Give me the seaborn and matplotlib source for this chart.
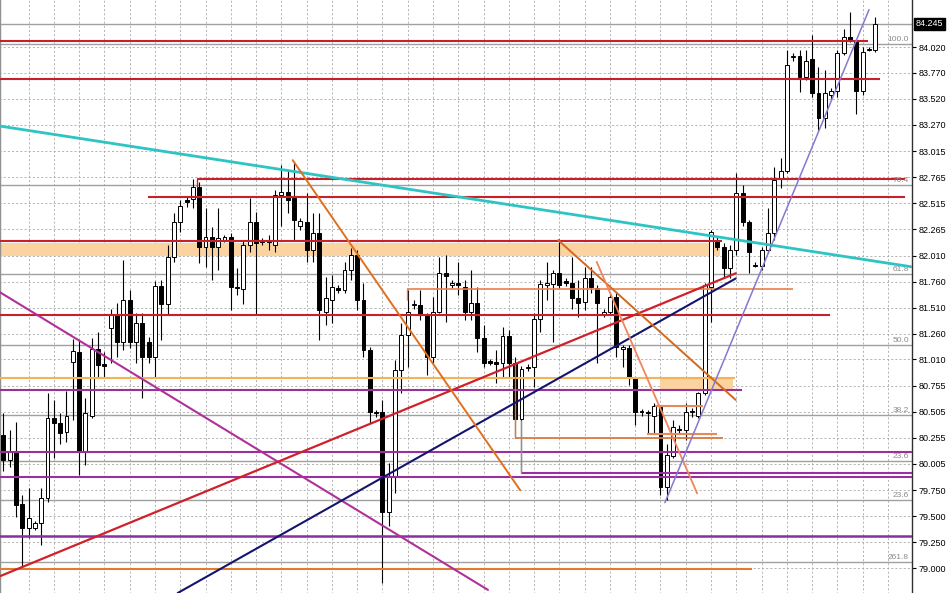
import numpy as np
import pandas as pd
import matplotlib
matplotlib.use("Agg")
import matplotlib.pyplot as plt
import matplotlib.transforms as mtransforms
import seaborn as sns

# candles (bar index 0..138)
opens = [80.28, 80.04, 80.12, 79.62, 79.39, 79.39, 79.43, 79.68, 80.45, 80.40,
         80.31, 80.99, 81.08, 80.12, 80.47, 81.11, 80.96, 81.31, 81.44, 81.18,
         81.58, 81.18, 81.36, 81.18, 81.03, 81.72, 81.54, 82.00, 82.33, 82.54,
         82.56, 82.67, 82.09, 82.19, 82.09, 82.16, 82.19, 81.71, 81.69, 82.11,
         82.33, 82.14, 82.15, 82.11, 82.59, 82.62, 82.57, 82.30, 82.33, 82.06,
         82.23, 81.47, 81.58, 81.70, 81.68, 81.87, 82.02, 81.58, 81.10, 80.50,
         80.50, 79.54, 79.88, 80.91, 81.25, 81.53, 81.53, 81.44, 81.03, 81.47,
         81.84, 81.73, 81.75, 81.71, 81.47, 81.55, 81.22, 80.99, 80.98, 80.98,
         81.24, 80.98, 80.44, 80.93, 80.94, 81.40, 81.73, 81.74, 81.84, 81.76,
         81.75, 81.60, 81.56, 81.79, 81.70, 81.45, 81.47, 81.61, 81.11, 81.12,
         80.83, 80.51, 80.50, 80.47, 80.55, 79.78, 80.08, 80.34, 80.33, 80.50,
         80.47, 80.69, 81.71, 82.16, 82.09, 81.89, 82.06, 82.61, 82.33, 81.92,
         81.91, 82.06, 82.23, 82.76, 82.83, 83.92, 83.93, 83.73, 83.90, 83.58,
         83.34, 83.56, 83.60, 83.96, 84.12, 84.09, 83.60, 83.99, 83.99]
highs = [80.49, 80.33, 80.41, 79.70, 79.77, 79.45, 79.77, 80.69, 80.62, 80.49,
         80.71, 81.21, 81.20, 80.64, 81.22, 81.27, 81.08, 81.50, 81.55, 81.97,
         81.68, 81.46, 81.46, 81.23, 81.77, 81.78, 82.11, 82.42, 82.55, 82.58,
         82.75, 82.72, 82.47, 82.29, 82.47, 82.21, 82.23, 81.89, 82.16, 82.57,
         82.43, 82.18, 82.21, 82.64, 82.88, 82.84, 82.91, 82.37, 82.61, 82.42,
         82.42, 81.80, 81.82, 81.73, 81.95, 82.08, 82.06, 81.75, 81.13, 80.52,
         80.62, 80.01, 81.00, 81.36, 81.68, 81.58, 81.68, 81.46, 81.61, 82.00,
         82.02, 81.78, 81.95, 81.78, 81.87, 81.71, 81.34, 81.01, 81.10, 81.32,
         81.29, 81.03, 80.95, 80.97, 81.46, 81.78, 81.95, 81.87, 82.17, 81.79,
         82.00, 81.78, 81.90, 81.90, 81.73, 81.50, 81.65, 81.65, 81.15, 81.15,
         80.84, 80.53, 80.52, 80.59, 80.57, 80.20, 80.43, 80.38, 80.59, 80.54,
         80.70, 81.75, 82.26, 82.19, 82.13, 82.11, 82.81, 82.69, 82.35, 81.95,
         82.09, 82.47, 82.86, 82.95, 83.99, 83.96, 83.99, 83.99, 84.14, 83.83,
         83.80, 83.63, 83.99, 84.19, 84.36, 84.10, 84.02, 84.02, 84.31]
lows = [79.94, 79.97, 79.49, 79.00, 79.29, 79.37, 79.22, 79.64, 80.06, 80.20,
        80.21, 80.43, 79.90, 79.99, 80.45, 80.83, 80.84, 80.98, 81.03, 81.10,
        81.12, 80.98, 80.64, 80.98, 80.83, 81.20, 81.44, 81.95, 82.24, 82.48,
        82.47, 81.94, 81.90, 81.78, 81.87, 82.14, 81.49, 81.63, 81.54, 82.05,
        81.44, 82.11, 82.06, 82.05, 82.30, 82.42, 82.16, 82.26, 81.95, 81.95,
        81.20, 81.34, 81.36, 81.65, 81.65, 81.78, 81.49, 81.03, 80.40, 80.46,
        78.86, 79.41, 79.72, 80.69, 80.94, 81.50, 81.39, 80.86, 80.98, 81.46,
        81.37, 81.70, 81.63, 81.39, 81.39, 81.08, 80.94, 80.96, 80.78, 80.84,
        80.84, 80.26, 79.93, 80.90, 80.74, 81.27, 81.58, 81.18, 81.70, 81.72,
        81.50, 81.42, 81.49, 81.65, 80.98, 81.42, 81.44, 81.03, 80.94, 80.76,
        80.38, 80.47, 80.30, 80.30, 79.70, 79.66, 80.06, 80.29, 80.23, 80.46,
        80.45, 80.67, 81.37, 82.06, 81.80, 81.79, 82.02, 82.30, 81.84, 81.90,
        81.87, 82.04, 82.16, 82.66, 82.81, 83.89, 83.59, 83.70, 83.54, 83.22,
        83.24, 83.51, 83.54, 83.94, 84.07, 83.37, 83.56, 83.98, 83.97]
closes = [80.04, 80.12, 79.61, 79.39, 79.48, 79.43, 79.68, 80.45, 80.40, 80.30,
          80.47, 81.09, 80.12, 80.49, 81.11, 80.96, 80.95, 81.44, 81.18, 81.58,
          81.18, 81.36, 81.03, 81.03, 81.72, 81.54, 82.00, 82.33, 82.49, 82.53,
          82.67, 82.09, 82.19, 82.09, 82.18, 82.19, 81.71, 81.70, 82.11, 82.33,
          82.13, 82.15, 82.14, 82.59, 82.62, 82.55, 82.35, 82.34, 82.06, 82.23,
          81.49, 81.60, 81.71, 81.68, 81.87, 82.02, 81.58, 81.10, 80.50, 80.49,
          79.54, 79.88, 80.91, 81.25, 81.47, 81.54, 81.44, 81.03, 81.47, 81.84,
          81.81, 81.75, 81.73, 81.47, 81.55, 81.22, 80.98, 80.98, 80.97, 81.24,
          80.98, 80.44, 80.92, 80.94, 81.40, 81.74, 81.75, 81.84, 81.73, 81.75,
          81.60, 81.55, 81.79, 81.71, 81.55, 81.47, 81.61, 81.13, 81.13, 80.83,
          80.50, 80.50, 80.49, 80.56, 79.78, 80.09, 80.36, 80.33, 80.50, 80.51,
          80.69, 81.73, 82.24, 82.09, 81.89, 82.06, 82.61, 82.33, 82.05, 81.91,
          82.06, 82.23, 82.74, 82.83, 83.85, 83.93, 83.73, 83.89, 83.58, 83.34,
          83.58, 83.60, 83.96, 84.12, 84.09, 83.60, 83.97, 84.00, 84.245]

# right price scale
tick_vals = [84.020, 83.770, 83.520, 83.270, 83.015, 82.765, 82.515, 82.265, 82.010,
             81.760, 81.510, 81.260, 81.010, 80.755, 80.505, 80.255, 80.005, 79.750,
             79.500, 79.250, 79.000]
tick_labels = ["%.3f" % v for v in tick_vals]
last_price = 84.245

# horizontal levels: price, start bar, end bar, colour, width
lvl_price = [84.078, 83.712, 82.748, 82.575, 82.151, 81.688, 81.438, 80.831,
             80.716, 80.561, 80.291, 80.253, 80.118, 79.916, 79.877, 79.309, 78.990]
lvl_x0 = [-0.6, -0.6, 30.6, 22.9, -0.6, 63.9, -0.6, -0.6,
          -0.6, 103.1, 101.9, 81.0, -0.6, 81.9, -0.6, -0.6, -0.6]
lvl_x1 = [136.8, 138.7, 142.7, 142.7, 113.7, 125.0, 130.8, 115.8,
          116.9, 110.7, 113.0, 113.9, 144.0, 144.0, 144.0, 144.0, 118.5]
lvl_color = ["#c8202a", "#c8202a", "#c8202a", "#c8202a", "#c8202a", "#e8804a", "#c8202a", "#f4b455",
             "#9a2f9e", "#e8895a", "#e8895a", "#d9793f", "#9a2f9e", "#9a2f9e", "#9a2f9e", "#8a2fa0", "#e07b30"]
lvl_lw = [1.5, 1.5, 1.5, 1.5, 1.5, 1.2, 1.5, 1.5,
          1.5, 1.5, 1.5, 1.3, 1.5, 1.5, 1.5, 1.8, 1.5]

# fibonacci levels (grey) and their tags
fib_price = [84.245, 84.049, 82.690, 81.830, 81.150, 80.475, 80.030, 79.655, 79.058]
fib_tag = ["", "100.0", "76.4", "61.8", "50.0", "38.2", "23.6", "23.6", "261.8"]

# shaded zones: low, high, start bar, end bar
zone_lo = [82.006, 80.725]
zone_hi = [82.132, 80.831]
zone_x0 = [-0.6, 103.9]
zone_x1 = [113.4, 115.5]

# trend lines: two points each (bar, price)
trend_name = ["cyan", "magenta", "red", "navy", "orange1", "orange2", "salmon", "lavender"]
trend_x = [(-0.6, 144.0), (-0.6, 76.7), (-0.6, 115.9), (27.6, 115.9),
           (45.8, 81.8), (87.8, 115.9), (93.9, 109.8), (104.7, 137.0)]
trend_y = [(83.259, 81.90), (81.66, 78.79), (78.92, 81.84), (78.76, 81.79),
           (82.93, 79.75), (82.16, 80.62), (81.95, 79.72), (79.63, 84.38)]
trend_color = {"cyan": "#2ec4c4", "magenta": "#b0309a", "red": "#d0202a", "navy": "#14146e",
               "orange1": "#e0701e", "orange2": "#d2691e", "salmon": "#f0845e", "lavender": "#8478d0"}
trend_lw = {"cyan": 2.0, "magenta": 1.5, "red": 1.6, "navy": 1.5,
            "orange1": 1.4, "orange2": 1.4, "salmon": 1.3, "lavender": 1.1}

sns.set_style("white")
plt.rcParams['font.family'] = ['Liberation Sans', 'DejaVu Sans']

fig = plt.figure(figsize=(9.48, 5.93), dpi=100)
ax = fig.add_axes([0.0, 0.0, 912 / 948, 1.0])

n = len(opens)
idx = np.arange(n)
df = pd.DataFrame({'i': idx, 'o': opens, 'h': highs, 'l': lows, 'c': closes})

# grid
ax.hlines(tick_vals, -0.6, 144, colors="#a8a8a8", linestyles=(0, (2.5, 2.5)), linewidth=0.6, zorder=0)
ax.vlines(np.arange(4, 141, 4), 78.7, 84.5, colors="#a8a8a8", linestyles=(0, (2.5, 2.5)), linewidth=0.6, zorder=0)

# zones
for lo, hi, x0, x1 in zip(zone_lo, zone_hi, zone_x0, zone_x1):
    ax.fill_between([x0, x1], lo, hi, color="#fbd3a0", linewidth=0, zorder=1)

# fib levels
for p, t in zip(fib_price, fib_tag):
    ax.hlines(p, -0.6, 144, colors="#a0a0a0", linewidth=1.0, zorder=2)
    if t:
        ax.text(143.3, p + 0.01, t, ha='right', va='bottom', fontsize=6, color="#8a8a8a", zorder=6)

# candles
ax.vlines(df['i'], df['l'], df['h'], colors="black", linewidth=0.8, zorder=3)
up = df['c'] >= df['o']
body_h = (df['c'] - df['o']).abs().clip(lower=0.012)
body_b = df[['o', 'c']].min(axis=1)
ax.bar(df['i'][up], body_h[up], bottom=body_b[up], width=0.62, color="white",
       edgecolor="black", linewidth=0.7, zorder=4)
ax.bar(df['i'][~up], body_h[~up], bottom=body_b[~up], width=0.62, color="black",
       edgecolor="black", linewidth=0.7, zorder=4)

# horizontal levels
for p, x0, x1, col, lw in zip(lvl_price, lvl_x0, lvl_x1, lvl_color, lvl_lw):
    ax.hlines(p, x0, x1, colors=col, linewidth=lw, zorder=5)

# small anchor ticks
ax.vlines(81.0, 80.253, 80.976, colors="#d9793f", linewidth=1.0, zorder=5)
ax.vlines(81.9, 79.916, 80.426, colors="#909090", linewidth=1.0, zorder=5)
ax.vlines(63.9, 81.58, 81.688, colors="#e8804a", linewidth=1.0, zorder=5)
ax.vlines(30.6, 82.67, 82.748, colors="#c8202a", linewidth=1.0, zorder=5)

# trend lines
for name, xs, ys in zip(trend_name, trend_x, trend_y):
    seg = pd.DataFrame({'x': list(xs), 'y': list(ys)})
    sns.lineplot(data=seg, x='x', y='y', color=trend_color[name], linewidth=trend_lw[name],
                 sort=False, estimator=None, ax=ax, zorder=6)

ax.set_xlim(-0.52, 143.8)
ax.set_ylim(78.76, 84.473)
ax.set_xlabel('')
ax.set_ylabel('')
ax.set_xticks([])
ax.yaxis.tick_right()
ax.set_yticks(tick_vals)
ax.set_yticklabels(tick_labels)
ax.tick_params(axis='y', length=3, width=0.8, pad=2, labelsize=6.5, colors="black")
for s in ['top', 'bottom']:
    ax.spines[s].set_visible(False)
ax.spines['right'].set_color("#303030")
ax.spines['right'].set_linewidth(1.0)
ax.spines['left'].set_color("#909090")
ax.spines['left'].set_linewidth(1.0)

trans = mtransforms.blended_transform_factory(ax.transAxes, ax.transData)
ax.text(1.004, last_price, "%.3f" % last_price, transform=trans, ha='left', va='center',
        fontsize=6.5, color='white', bbox=dict(facecolor='black', edgecolor='black', pad=1.0), zorder=10)

fig.savefig("out.png", dpi=100)
